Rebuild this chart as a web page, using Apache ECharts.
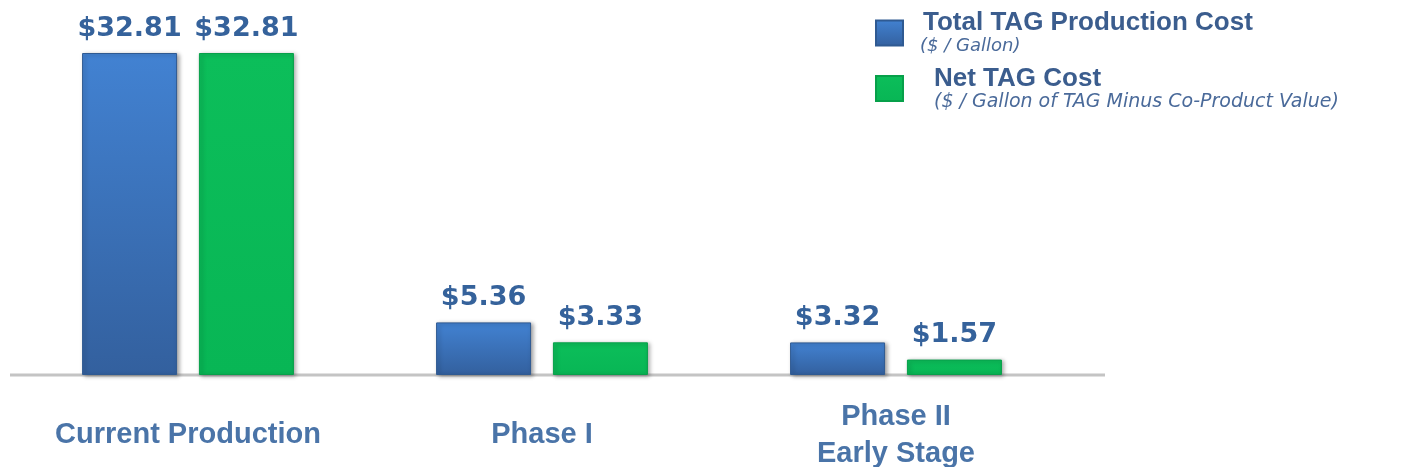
<!DOCTYPE html>
<html>
<head>
<meta charset="utf-8">
<title>TAG Production Cost</title>
<script src="https://cdn.jsdelivr.net/npm/echarts@6/dist/echarts.min.js"></script>
<style>
  html, body { margin: 0; padding: 0; background: #ffffff; }
  #chart { width: 1401px; height: 467px; }
</style>
</head>
<body>
<div id="chart"></div>
<script>
// Stages of production and their costs ($ per gallon of TAG)
const categories = ['Current Production', 'Phase I', 'Phase II\nEarly Stage'];
const totalCost = [32.81, 5.36, 3.32];
const netCost = [32.81, 3.33, 1.57];

const seriesNames = ['Total TAG Production Cost', 'Net TAG Cost'];
const seriesNotes = ['($ / Gallon)', '($ / Gallon of TAG Minus Co-Product Value)'];

const chart = echarts.init(document.getElementById('chart'), null, { renderer: 'canvas' });

const labelStyle = {
  show: true,
  position: 'top',
  distance: 11,
  fontFamily: 'DejaVu Sans',
  fontWeight: 'bold',
  fontSize: 27,
  color: '#35629b',
  formatter: p => '$' + p.value.toFixed(2)
};

const barShadow = {
  shadowColor: 'rgba(0,0,0,0.35)',
  shadowBlur: 4,
  shadowOffsetX: 2,
  shadowOffsetY: 1
};

chart.setOption({
  animation: false,
  backgroundColor: '#ffffff',
  grid: { left: 11, right: 328, top: 53, bottom: 92, containLabel: false, outerBoundsMode: 'none' },
  legend: {
    orient: 'vertical',
    left: 875,
    top: 10,
    padding: 0,
    itemWidth: 27,
    itemHeight: 25,
    itemGap: 10,
    icon: 'rect',
    selectedMode: false,
    data: seriesNames,
    formatter: name => {
      const i = seriesNames.indexOf(name);
      return i === 0
        ? '{t|' + name + '}\n{s|' + seriesNotes[i] + '}'
        : '{t2|' + name + '}\n{s2|' + seriesNotes[i] + '}';
    },
    textStyle: {
      rich: {
        t:  { fontFamily: 'Liberation Sans', fontWeight: 'bold', fontSize: 26, color: '#3b5d8e', lineHeight: 27, padding: [0, 0, 0, 15] },
        s:  { fontFamily: 'DejaVu Sans', fontStyle: 'italic', fontSize: 18, color: '#4a6a9a', lineHeight: 20, padding: [0, 0, 0, 12] },
        t2: { fontFamily: 'Liberation Sans', fontWeight: 'bold', fontSize: 26, color: '#3b5d8e', lineHeight: 27, padding: [0, 0, 0, 26] },
        s2: { fontFamily: 'DejaVu Sans', fontStyle: 'italic', fontSize: 19, color: '#4a6a9a', lineHeight: 20, padding: [0, 0, 0, 26] }
      }
    }
  },
  xAxis: {
    type: 'category',
    data: categories,
    axisLine: { show: false },
    axisTick: { show: false },
    axisLabel: {
      interval: 0,
      margin: 60,
      verticalAlign: 'middle',
      fontFamily: 'Liberation Sans',
      fontWeight: 'bold',
      fontSize: 29,
      lineHeight: 37,
      color: '#4a74a8'
    }
  },
  yAxis: {
    type: 'value',
    min: 0,
    max: Math.max(...totalCost, ...netCost),
    show: false,
    splitLine: { show: false }
  },
  graphic: [{
    // baseline running under the bars
    type: 'line',
    z: 1,
    shape: { x1: 10, y1: 375, x2: 1105, y2: 375 },
    style: { stroke: '#c4c4c4', lineWidth: 3 }
  }],
  series: [
    {
      name: seriesNames[0],
      type: 'bar',
      z: 3,
      data: totalCost,
      barWidth: 95,
      barGap: '23%',
      itemStyle: Object.assign({
        color: new echarts.graphic.LinearGradient(0, 0, 0, 1, [
          { offset: 0, color: '#4282d2' },
          { offset: 1, color: '#33609e' }
        ]),
        borderColor: '#2f5a92',
        borderWidth: 1
      }, barShadow),
      label: labelStyle
    },
    {
      name: seriesNames[1],
      type: 'bar',
      z: 3,
      data: netCost,
      barWidth: 95,
      itemStyle: Object.assign({
        color: new echarts.graphic.LinearGradient(0, 0, 0, 1, [
          { offset: 0, color: '#0cbe5a' },
          { offset: 1, color: '#08b655' }
        ]),
        borderColor: '#07a04a',
        borderWidth: 1
      }, barShadow),
      label: labelStyle
    }
  ]
});
</script>
</body>
</html>
